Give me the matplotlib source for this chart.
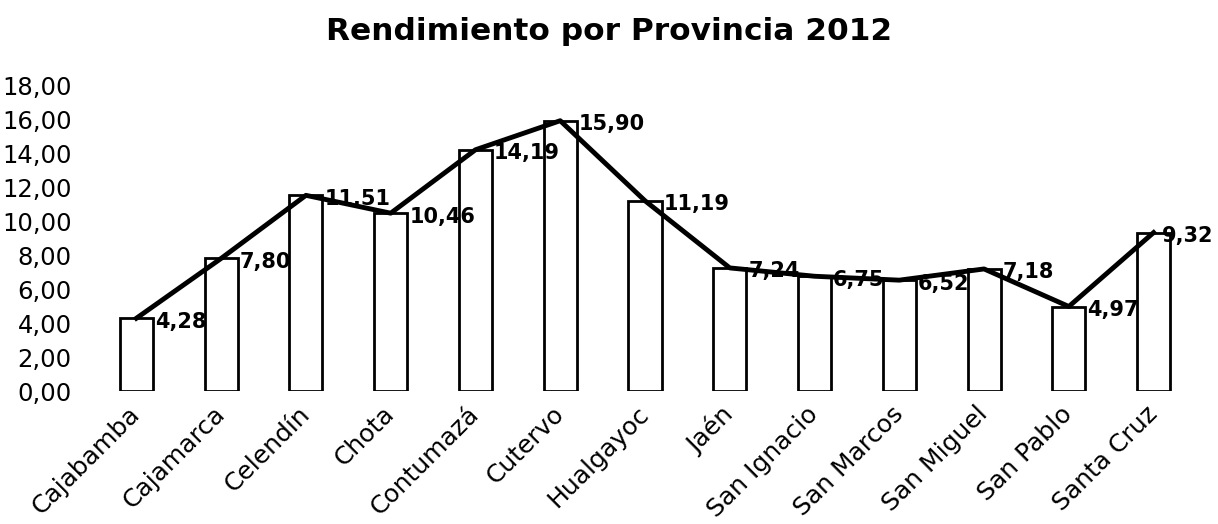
import matplotlib
matplotlib.use("Agg")
import matplotlib.pyplot as plt
import numpy as np

categories = ["Cajabamba", "Cajamarca", "Celendín", "Chota", "Contumazá", "Cutervo",
              "Hualgayoc", "Jaén", "San Ignacio", "San Marcos", "San Miguel", "San Pablo",
              "Santa Cruz"]
values = [4.28, 7.80, 11.51, 10.46, 14.19, 15.90, 11.19, 7.24, 6.75, 6.52, 7.18, 4.97, 9.32]
yticks = [0, 2, 4, 6, 8, 10, 12, 14, 16, 18]

plt.rcParams['font.family'] = ['DejaVu Sans']

fig = plt.figure(figsize=(12.18, 5.24), dpi=100)
ax = fig.add_axes([94/1218, 1 - 391/524, 1102/1218, (391-85)/524])

x = np.arange(len(categories))
ax.bar(x, values, width=0.39, color="white", edgecolor="black", linewidth=2, zorder=2)
ax.plot(x, values, color="black", linewidth=3.5, zorder=3)

n = len(categories)
for xi, v in zip(x, values):
    dx = 0.22 if xi < n - 1 else 0.1
    ax.text(xi + dx, v - 0.2, f"{v:.2f}".replace(".", ","), fontsize=15,
            fontweight="bold", ha="left", va="center", zorder=4)

ax.set_xlim(-0.5, n - 0.5)
ax.set_ylim(0, 18)
ax.set_yticks(yticks)
ax.set_yticklabels([f"{t:.2f}".replace(".", ",") for t in yticks], fontsize=17.5)
ax.set_xticks(x)
ax.set_xticklabels(categories, rotation=45, ha="right", va="center",
                   rotation_mode="anchor", fontsize=18)
ax.tick_params(axis="y", length=0, pad=16)
ax.tick_params(axis="x", length=0, pad=14)
for s in ax.spines.values():
    s.set_visible(False)

fig.text(0.5, 1 - 32/524, "Rendimiento por Provincia 2012", ha="center", va="center",
         fontsize=22.5, fontweight="bold")

fig.savefig("out.png", dpi=100)
